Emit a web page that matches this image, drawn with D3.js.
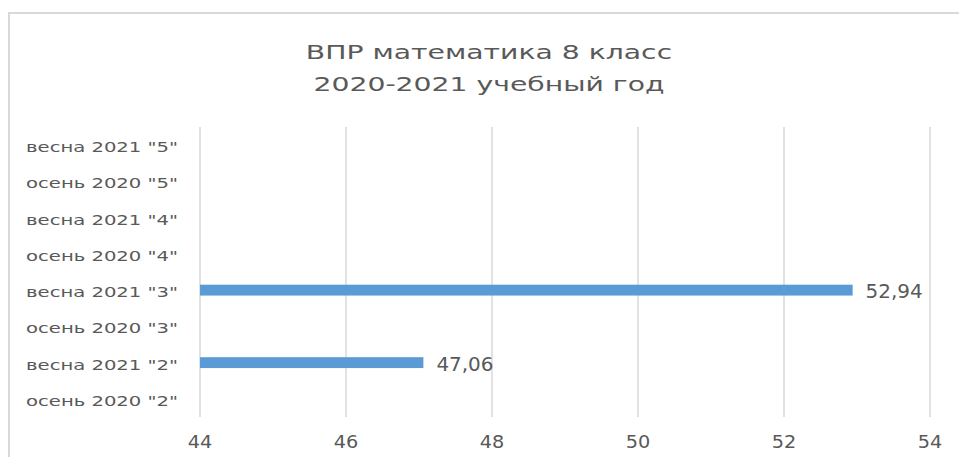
<!DOCTYPE html>
<html><head><meta charset="utf-8">
<script src="https://cdn.jsdelivr.net/npm/d3@7"></script>
<style>body{margin:0;background:#fff;}</style>
</head><body>
<svg id="c" width="959" height="457"></svg>
<script>
const categories = ['весна 2021 "5"','осень 2020 "5"','весна 2021 "4"','осень 2020 "4"','весна 2021 "3"','осень 2020 "3"','весна 2021 "2"','осень 2020 "2"'];
const values = [null,null,null,null,52.94,null,47.06,null];
const ticks = [44,46,48,50,52,54];
const titleLines = ["ВПР математика 8 класс","2020-2021 учебный год"];

const FONT = "'DejaVu Sans',sans-serif";
const svg = d3.select("#c");
svg.append("rect").attr("x",9).attr("y",13).attr("width",1000).attr("height",500)
  .attr("fill","#fff").attr("stroke","#d9d9d9").attr("stroke-width",2);

const x = d3.scaleLinear().domain([44,54]).range([200,930]);
const y = d3.scaleBand().domain(categories).range([127,417]).paddingInner(0.7).paddingOuter(0.35);

svg.selectAll("line.grid").data(ticks).enter().append("line")
  .attr("x1",d=>x(d)).attr("x2",d=>x(d)).attr("y1",127).attr("y2",417)
  .attr("stroke","#d9d9d9").attr("stroke-width",1.5);

// x tick labels
svg.selectAll("text.tick").data(ticks).enter().append("text")
  .attr("transform",d=>`translate(${x(d)},448) scale(1.1,1)`)
  .attr("text-anchor","middle").attr("font-family",FONT).attr("font-size",17.5).attr("fill","#595959")
  .text(d3.format("d"));

// y category labels
svg.selectAll("text.cat").data(categories).enter().append("text")
  .attr("transform",d=>`translate(178,${y(d)+y.bandwidth()/2+7}) scale(1.4,1)`)
  .attr("text-anchor","end").attr("font-family",FONT).attr("font-size",14).attr("fill","#595959")
  .text(d=>d);

const data = categories.map((c,i)=>({c,v:values[i]})).filter(d=>d.v!=null);
svg.selectAll("rect.bar").data(data).enter().append("rect")
  .attr("x",x(44)).attr("y",d=>y(d.c)).attr("width",d=>x(d.v)-x(44)).attr("height",y.bandwidth())
  .attr("fill","#5b9bd5");
svg.selectAll("text.lbl").data(data).enter().append("text")
  .attr("transform",d=>`translate(${x(d.v)+13},${y(d.c)+y.bandwidth()/2+8}) scale(1.05,1)`)
  .attr("font-family",FONT).attr("font-size",19).attr("fill","#595959")
  .text(d=>d3.format(".2f")(d.v).replace(".",","));

svg.selectAll("text.title").data(titleLines).enter().append("text")
  .attr("transform",(d,i)=>`translate(489,${59+i*32}) scale(1.45,1)`).attr("text-anchor","middle")
  .attr("font-family",FONT).attr("font-size",19.5).attr("fill","#595959")
  .text(d=>d);
</script>
</body></html>
